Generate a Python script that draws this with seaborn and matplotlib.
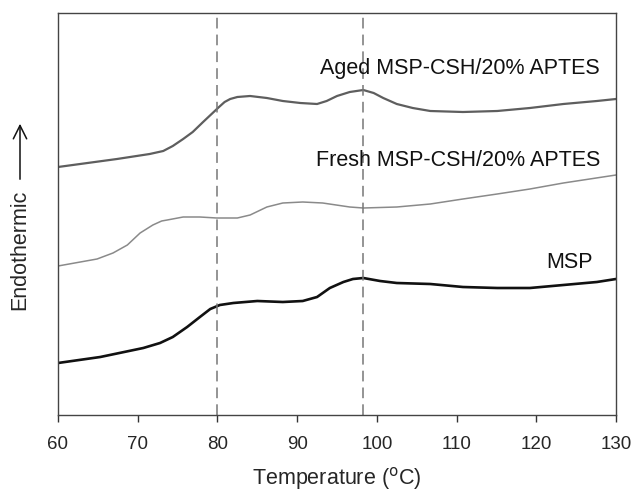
#!/usr/bin/env python3

import matplotlib
matplotlib.use("Agg")
import matplotlib.pyplot as plt
import seaborn as sns
import pandas

# DSC traces, signal in arbitrary units
aged_temp = [60, 67.4, 71.5, 73.2, 74.4, 75.7, 76.9, 78.2, 79.4, 80.2, 80.9, 81.6,
             82.5, 84.1, 86.2, 88.2, 90.4, 92.5, 93.7, 95.0, 96.6, 98.3, 99.6,
             100.8, 102.5, 104.5, 106.7, 110.8, 115.1, 119.2, 123.4, 127.6, 130]
aged_signal = [248, 256, 261, 264, 269, 276, 283, 293, 302, 308, 313, 316,
               318, 319, 317, 314, 312, 311, 314, 319, 323, 325, 322,
               317, 311, 307, 304, 303, 304, 307, 311, 314, 316]

fresh_temp = [60, 64.9, 66.9, 68.7, 70.3, 71.9, 73.0, 73.7, 75.7, 77.8, 79.9, 82.5,
              84.1, 86.2, 88.2, 90.7, 93.2, 96.6, 98.3, 102.5, 106.7, 110.8,
              115.1, 119.2, 123.4, 130]
fresh_signal = [149, 156, 162, 170, 182, 190, 194, 195, 198, 198, 197, 197,
                200, 208, 212, 213, 212, 208, 207, 208, 211, 216,
                221, 226, 232, 240]

msp_temp = [60, 65.3, 70.7, 72.8, 74.4, 76.2, 77.8, 79.1, 80.3, 82.0, 85.0, 88.2,
            90.7, 92.5, 94.1, 95.8, 97.0, 98.3, 100.4, 102.5, 106.7, 110.8,
            115.1, 119.2, 123.4, 127.6, 130]
msp_signal = [52, 58, 67, 72, 78, 88, 98, 106, 110, 112, 114, 113,
              114, 118, 127, 133, 136, 137, 134, 132, 131, 128,
              127, 127, 130, 133, 136]

series_names = ["Aged MSP-CSH/20% APTES", "Fresh MSP-CSH/20% APTES", "MSP"]
peak_temps = [80.0, 98.3]
x_ticks = [60, 70, 80, 90, 100, 110, 120, 130]


def main():
    frames = []
    for name, temp, sig in zip(series_names,
                               [aged_temp, fresh_temp, msp_temp],
                               [aged_signal, fresh_signal, msp_signal]):
        frames.append(pandas.DataFrame({"temp": temp, "signal": sig, "sample": name}))
    df = pandas.concat(frames, ignore_index=True)

    sns.set_style("ticks")
    plt.rcParams["font.family"] = ["Liberation Sans", "DejaVu Sans"]

    fig = plt.figure(figsize=(6.34, 4.92), dpi=100)
    ax = fig.add_axes([58 / 634, 77 / 492, 558 / 634, 402 / 492])

    colors = {series_names[0]: "#5e5e5e", series_names[1]: "#8a8a8a", series_names[2]: "#111111"}
    widths = {series_names[0]: 1.6, series_names[1]: 1.1, series_names[2]: 1.9}
    for name in series_names:
        sub = df[df["sample"] == name]
        sns.lineplot(data=sub, x="temp", y="signal", color=colors[name],
                     linewidth=widths[name], ax=ax, sort=False)

    for t in peak_temps:
        ax.axvline(t, color="#777777", linewidth=1.1, linestyle=(0, (7, 4)))

    # Labels above each trace
    ax.text(128.0, 347, series_names[0], ha="right", va="center", fontsize=15.5, color="#111111")
    ax.text(128.0, 255, series_names[1], ha="right", va="center", fontsize=15.5, color="#111111")
    ax.text(127.1, 153, series_names[2], ha="right", va="center", fontsize=15.5, color="#111111")

    ax.set_xlim(60, 130)
    ax.set_ylim(0, 402)
    ax.set_xticks(x_ticks)
    ax.set_yticks([])
    ax.tick_params(axis="x", direction="out", length=5, width=1, labelsize=13.5,
                   color="#333333", pad=10)
    for spine in ax.spines.values():
        spine.set_visible(True)
        spine.set_color("#444444")
        spine.set_linewidth(1.0)

    ax.set_xlabel("Temperature ($^{\\rm o}$C)", fontsize=15.5, labelpad=9)
    ax.set_ylabel("")

    # Rotated y label with a long arrow
    fig.text(20 / 634, 242 / 492, "Endothermic", rotation=90, ha="center", va="center",
             fontsize=15.5)
    fig.add_artist(matplotlib.patches.FancyArrowPatch(
        (20 / 634, 310 / 492), (20 / 634, 371 / 492), transform=fig.transFigure,
        arrowstyle="->", mutation_scale=24, linewidth=1.1, color="#111111"))

    fig.savefig("out.png", dpi=100)
    plt.close(fig)


if __name__ == "__main__":
    main()
